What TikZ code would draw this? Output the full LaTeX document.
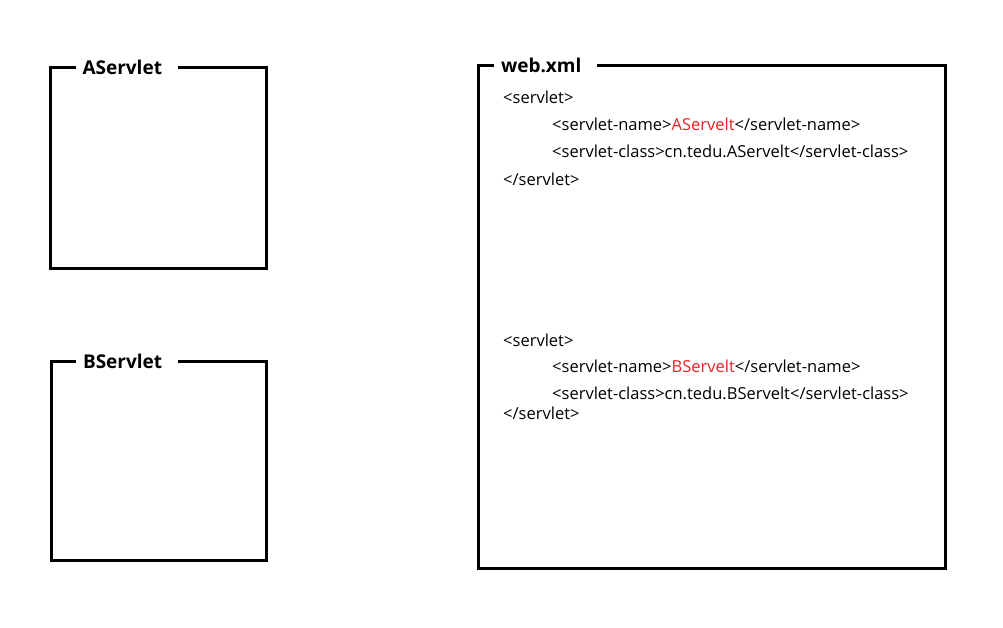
\documentclass[tikz,border=0pt]{standalone}
\usepackage{fontspec}
\setmainfont{Open Sans}
\usepackage{xcolor}
\usetikzlibrary{calc,positioning}
\definecolor{namered}{RGB}{232,32,38}

\begin{document}
\begin{tikzpicture}[x=1pt,y=-1pt]

  % Parameters
  \def\lw{3pt}
  \def\tpad{9}

  % Styles
  \tikzstyle{frame}=[line width=\lw,line join=miter]
  \tikzstyle{title}=[anchor=west,font=\fontsize{19}{22}\selectfont\bfseries,inner xsep=7pt,inner ysep=0pt,outer sep=0pt]
  \tikzstyle{code}=[anchor=base west,font=\fontsize{16.5}{19}\selectfont,inner sep=0pt]

  % \panel{<id>}{<north-west>}{<south-east>}{<gap-offset>}{<title>}
  \newcommand{\panel}[5]{%
    \path #2 coordinate (#1-nw) #3 coordinate (#1-se);
    \node[title] (#1-title) at ($(#1-nw)+(#4,0)$) {#5};
    \draw[frame] ($(#1-title.east)+(\tpad,0)$) -| (#1-se) -| (#1-nw) -- (#1-title.west);
  }

  % ===========================================================================

  \useasboundingbox (0,0) rectangle (1003,627);

  % Servlet boxes
  \panel{aservlet}{(50.5,67)}{(266,268)}{25}{AServlet}
  \panel{bservlet}{(51,361)}{(266.5,560)}{25}{BServlet}

  % Config box
  \panel{webxml}{(478,65)}{(945,568)}{16}{web.xml}

  % First mapping
  \node[code] (a-open)  at (503,103) {<servlet>};
  \node[code] (a-name)  at (552,130) {<servlet-name>\textcolor{namered}{AServelt}</servlet-name>};
  \node[code] (a-class) at (552,157) {<servlet-class>cn.tedu.AServelt</servlet-class>};
  \node[code] (a-close) at (503,185) {</servlet>};

  % Second mapping
  \node[code] (b-open)  at (503,346) {<servlet>};
  \node[code] (b-name)  at (552,372) {<servlet-name>\textcolor{namered}{BServelt}</servlet-name>};
  \node[code] (b-class) at (552,399) {<servlet-class>cn.tedu.BServelt</servlet-class>};
  \node[code] (b-close) at (503,419) {</servlet>};

\end{tikzpicture}
\end{document}
